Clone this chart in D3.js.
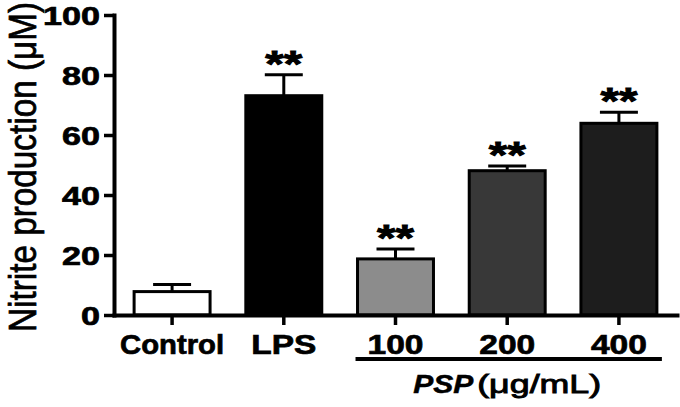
<!DOCTYPE html>
<html>
<head>
<meta charset="utf-8">
<script src="https://cdn.jsdelivr.net/npm/d3@7"></script>
<style>
  body { margin: 0; background: #fff; }
  svg { display: block; }
  text { font-family: "Liberation Sans", Arial, sans-serif; fill: #000; }
</style>
</head>
<body>
<svg id="chart"></svg>
<script>
// values
var categories = ["Control", "LPS", "100", "200", "400"];
var means = [7.8, 73.1, 18.7, 48.1, 63.9];
var errors = [2.4, 7.0, 3.3, 1.6, 3.7];
var signif = ["", "**", "**", "**", "**"];
var yTicks = [0, 20, 40, 60, 80, 100];

var width = 680;
var height = 407;
var fills = ["#ffffff", "#000000", "#8c8c8c", "#383838", "#1d1d1d"];

var svg = d3.select("#chart")
  .attr("width", width)
  .attr("height", height);

var xScale = d3.scaleBand()
  .domain(categories)
  .range([114, 677])
  .paddingInner(0.32)
  .paddingOuter(0.18);

var yScale = d3.scaleLinear()
  .domain([0, 100])
  .range([315, 15]);

var bw = xScale.bandwidth();
var data = categories.map(function(c, i) {
  return { name: c, value: means[i], err: errors[i], sig: signif[i], fill: fills[i] };
});

// error bars (drawn first so the bar outline covers their foot)
var eb = svg.append("g").attr("class", "errors");
eb.selectAll("line.stem")
  .data(data)
  .enter()
  .append("line")
  .attr("x1", function(d) { return xScale(d.name) + bw / 2; })
  .attr("x2", function(d) { return xScale(d.name) + bw / 2; })
  .attr("y1", function(d) { return yScale(d.value); })
  .attr("y2", function(d) { return yScale(d.value + d.err); })
  .attr("stroke", "#000")
  .attr("stroke-width", 3);
eb.selectAll("line.cap")
  .data(data)
  .enter()
  .append("line")
  .attr("x1", function(d) { return xScale(d.name) + bw / 2 - bw * 0.25; })
  .attr("x2", function(d) { return xScale(d.name) + bw / 2 + bw * 0.25; })
  .attr("y1", function(d) { return yScale(d.value + d.err); })
  .attr("y2", function(d) { return yScale(d.value + d.err); })
  .attr("stroke", "#000")
  .attr("stroke-width", 3);

// bars
svg.append("g").attr("class", "bars")
  .selectAll("rect")
  .data(data)
  .enter()
  .append("rect")
  .attr("x", function(d) { return xScale(d.name); })
  .attr("y", function(d) { return yScale(d.value); })
  .attr("width", bw)
  .attr("height", function(d) { return yScale(0) - yScale(d.value); })
  .attr("fill", function(d) { return d.fill; })
  .attr("stroke", "#000")
  .attr("stroke-width", 3);

// significance stars
svg.append("g").attr("class", "stars")
  .selectAll("text")
  .data(data.filter(function(d) { return d.sig; }))
  .enter()
  .append("text")
  .attr("x", function(d) { return xScale(d.name) + bw / 2; })
  .attr("y", function(d) { return yScale(d.value + d.err) + 2; })
  .attr("text-anchor", "middle")
  .attr("font-size", 36)
  .attr("font-weight", "bold")
  .attr("stroke", "#000")
  .attr("stroke-width", 0.9)
  .attr("textLength", 37)
  .attr("lengthAdjust", "spacingAndGlyphs")
  .text(function(d) { return d.sig; });

// y axis
var yAxis = svg.append("g")
  .attr("transform", "translate(114,0)")
  .call(d3.axisLeft(yScale).tickValues(yTicks).tickSize(10).tickSizeOuter(0));
yAxis.select(".domain").attr("stroke-width", 4).attr("stroke-linecap", "square");
yAxis.selectAll(".tick line").attr("stroke-width", 3.5);
yAxis.selectAll(".tick text")
  .attr("x", -14)
  .attr("dy", "0.36em")
  .attr("font-size", 26)
  .attr("font-weight", "bold")
  .attr("font-family", null)
  .attr("stroke", "#000")
  .attr("stroke-width", 0.7)
  .attr("textLength", function(d) { return String(d).length * 19; })
  .attr("lengthAdjust", "spacingAndGlyphs");

// x axis
var xAxis = svg.append("g")
  .attr("transform", "translate(0,315)")
  .call(d3.axisBottom(xScale).tickSize(10).tickSizeOuter(0));
xAxis.select(".domain").attr("stroke-width", 4).attr("stroke-linecap", "square");
xAxis.selectAll(".tick line").attr("stroke-width", 3.5);
var labelWidths = { "Control": 104, "LPS": 65, "100": 56, "200": 56, "400": 56 };
xAxis.selectAll(".tick text")
  .attr("y", 39)
  .attr("dy", 0)
  .attr("font-size", 28)
  .attr("font-weight", "bold")
  .attr("font-family", null)
  .attr("stroke", "#000")
  .attr("stroke-width", 0.7)
  .attr("textLength", function(d) { return labelWidths[d]; })
  .attr("lengthAdjust", "spacingAndGlyphs");
svg.selectAll(".tick text").style("fill", "#000");

// PSP group underline and label
svg.append("line")
  .attr("x1", xScale("100") - 2)
  .attr("x2", xScale("400") + bw + 5)
  .attr("y1", 359)
  .attr("y2", 359)
  .attr("stroke", "#000")
  .attr("stroke-width", 4);

var cx = xScale("200") + bw / 2;
svg.append("text")
  .attr("x", cx - 94)
  .attr("y", 393)
  .attr("font-size", 26)
  .attr("font-weight", "bold")
  .attr("font-style", "italic")
  .attr("stroke", "#000")
  .attr("stroke-width", 0.5)
  .attr("textLength", 60)
  .attr("lengthAdjust", "spacingAndGlyphs")
  .text("PSP");
svg.append("text")
  .attr("x", cx - 30)
  .attr("y", 393)
  .attr("font-size", 26)
  .attr("stroke", "#000")
  .attr("stroke-width", 0.9)
  .attr("textLength", 124)
  .attr("lengthAdjust", "spacingAndGlyphs")
  .text("(μg/mL)");

// y axis title
svg.append("text")
  .attr("transform", "translate(36,167) scale(1.25,1) rotate(-90)")
  .attr("text-anchor", "middle")
  .attr("font-size", 31)
  .attr("stroke", "#000")
  .attr("stroke-width", 0.6)
  .attr("textLength", 330)
  .attr("lengthAdjust", "spacingAndGlyphs")
  .text("Nitrite production (μM)");
</script>
</body>
</html>
